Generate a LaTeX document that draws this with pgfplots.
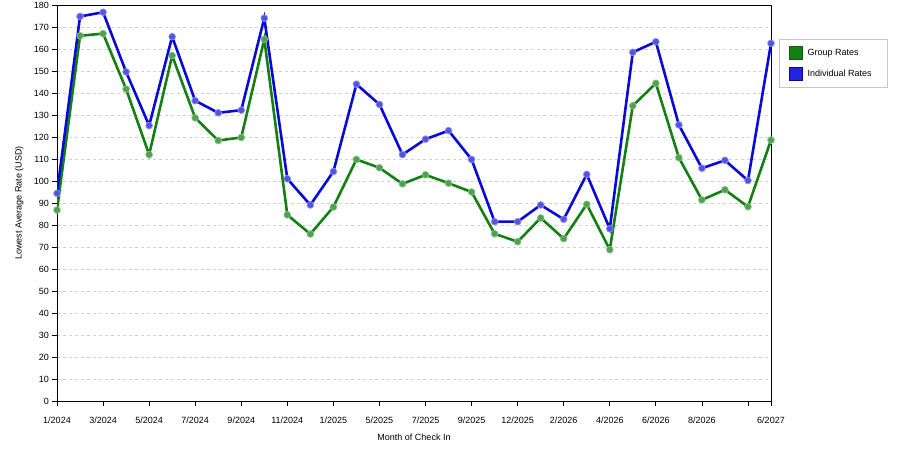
\documentclass[border=0pt]{standalone}
\usepackage{pgfplots}
\pgfplotsset{compat=1.18}
\usepackage{fontspec}
\setmainfont{Liberation Sans}
\definecolor{grp}{RGB}{20,128,20}
\definecolor{ind}{RGB}{10,10,215}
\begin{document}
\fontsize{9}{11}\selectfont
\begin{tikzpicture}
\path[use as bounding box] (0,0) rectangle (900pt,450pt);
\begin{axis}[
  at={(57pt,49pt)}, anchor=south west, scale only axis,
  width=714pt, height=396pt,
  xmin=0, xmax=31, ymin=0, ymax=180,
  xtick={0,2,4,6,8,10,12,14,16,18,20,22,24,26,28,30,31},
  xticklabels={1/2024,3/2024,5/2024,7/2024,9/2024,11/2024,1/2025,5/2025,7/2025,9/2025,12/2025,2/2026,4/2026,6/2026,8/2026,{},6/2027},
  ytick={0,10,...,180},
  tick align=outside, major tick length=5pt,
  tick style={black, line width=0.7pt},
  xtick pos=bottom, ytick pos=left,
  ymajorgrids, grid style={dashed, gray!35, line width=0.6pt},
  axis line style={black, line width=0.7pt},
  tick label style={font=\fontsize{9}{11}\selectfont},
  xticklabel style={yshift=-8pt},
  /pgf/number format/assume math mode=true,
  xlabel={Month of Check In}, ylabel={Lowest Average Rate (USD)},
  label style={font=\fontsize{9}{11}\selectfont},
  xlabel style={yshift=-4pt},
  ylabel style={yshift=4pt},
  legend style={at={(1,1)}, anchor=north west, xshift=8pt, yshift=-34pt,
    draw=gray!45, font=\fontsize{9}{11}\selectfont, inner xsep=10pt, inner ysep=7pt,
    row sep=7pt, nodes={inner xsep=5pt}},
  legend cell align=left,
]
\addplot[grp, line width=2.6pt, mark=*, mark size=3.4pt,
  mark options={fill=grp!75!white, draw=grp!50!white, line width=0.7pt}, forget plot]
coordinates {
(0,86.8)(1,166)(2,167)(3,141.8)(4,112)(5,157)(6,128.7)(7,118.4)(8,119.8)(9,164.4)
(10,84.6)(11,75.9)(12,88.2)(13,109.8)(14,106)(15,98.7)(16,102.8)(17,99)(18,95)(19,76)
(20,72.4)(21,83.2)(22,73.8)(23,89.4)(24,68.8)(25,134.2)(26,144.4)(27,110.6)(28,91.4)(29,96)
(30,88.3)(31,118.6)};
\addplot[ind, line width=2.6pt, mark=*, mark size=3.4pt,
  mark options={fill=ind!70!white, draw=ind!45!white, line width=0.7pt}, forget plot]
coordinates {
(0,94.4)(1,174.8)(2,176.7)(3,149.6)(4,125.2)(5,165.6)(6,136.5)(7,131)(8,132.2)(9,174)
(10,101)(11,89.1)(12,104.3)(13,144)(14,134.8)(15,112)(16,119)(17,122.9)(18,109.8)(19,81.5)
(20,81.5)(21,89.1)(22,82.6)(23,103)(24,78.3)(25,158.5)(26,163.3)(27,125.5)(28,105.8)(29,109.4)
(30,100.2)(31,162.6)};
\addlegendimage{legend image code/.code={\draw[fill=grp, draw=grp!70!black, line width=0.5pt] (0pt,-6.5pt) rectangle (13pt,6.5pt);}}
\addlegendentry{Group Rates}
\addlegendimage{legend image code/.code={\draw[fill=ind!90!white, draw=ind!70!black, line width=0.5pt] (0pt,-6.5pt) rectangle (13pt,6.5pt);}}
\addlegendentry{Individual Rates}
\end{axis}
\end{tikzpicture}
\end{document}
